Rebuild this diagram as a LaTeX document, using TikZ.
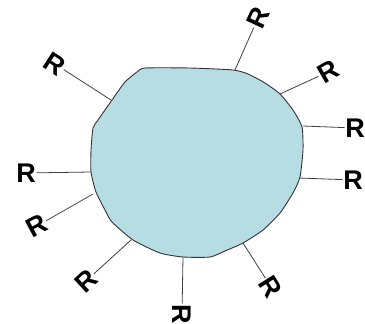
\documentclass[tikz,border=0pt]{standalone}
\usepackage{fontspec}
\setmainfont{Liberation Sans}
\usetikzlibrary{calc}
\definecolor{blobfill}{RGB}{183,221,228}

\begin{document}
\begin{tikzpicture}[
  x=1pt, y=-1pt,
  rlab/.style ={font=\fontsize{27}{27}\selectfont\bfseries, inner sep=0.5pt},
  spoke/.style={draw=black!75, line width=0.8pt},
  blob/.style ={draw=black!80, line width=0.9pt, fill=blobfill},
]
\clip (0,0) rectangle (365,324);
\useasboundingbox (0,0) rectangle (365,324);

% --- the cell body ---
\draw[blob] plot[smooth cycle, tension=0.35] coordinates {
  (145,68) (190,68) (233,70) (248,74) (265,83) (280,94) (293,110)
  (302,127) (303,150) (300,177) (293,193) (280,213) (263,230) (243,243)
  (225,251) (210,257) (183,257) (160,253) (133,240) (112,222) (106,212)
  (96,192) (91,172) (91,150) (93,128) (98,120) (112,100) (125,82) (137,72)};

% --- attachment points on the outline ---
\coordinate (b1)  at (235,70);
\coordinate (b2)  at (280,94);
\coordinate (b3)  at (303,126);
\coordinate (b4)  at (299,178);
\coordinate (b5)  at (243,243);
\coordinate (b6)  at (183,257);
\coordinate (b7)  at (131,240);
\coordinate (b8)  at (93,194);
\coordinate (b9)  at (91,172);
\coordinate (b10) at (111,100);

% --- R groups ---
\node[rlab, rotate=65]  (r1)  at (258,18)  {R};
\node[rlab, rotate=30]  (r2)  at (328,72)  {R};
\node[rlab]             (r3)  at (355,128) {R};
\node[rlab]             (r4)  at (353,180) {R};
\node[rlab, rotate=-58] (r5)  at (271,287) {R};
\node[rlab, rotate=-90] (r6)  at (182,314) {R};
\node[rlab, rotate=43]  (r7)  at (86,281)  {R};
\node[rlab, rotate=28]  (r8)  at (37,226)  {R};
\node[rlab]             (r9)  at (26,173)  {R};
\node[rlab, rotate=-33] (r10) at (55,64)   {R};

\foreach \i in {1,...,10}
  \draw[spoke] (b\i) -- (r\i);

\end{tikzpicture}
\end{document}
